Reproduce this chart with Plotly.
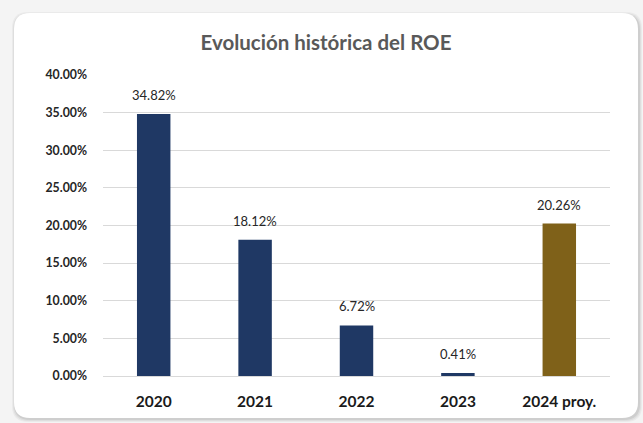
import plotly.graph_objects as go

categories = ["2020", "2021", "2022", "2023", "2024 proy."]
roe = [0.3482, 0.1812, 0.0672, 0.0041, 0.2026]
bar_colors = ["#1F3864", "#1F3864", "#1F3864", "#1F3864", "#7F6119"]
tick_vals = [0, 0.05, 0.10, 0.15, 0.20, 0.25, 0.30, 0.35, 0.40]

W, H = 643, 423
ml, mr, mt, mb = 103, 33, 75, 47

def rrect(x0, y0, x1, y1, r):
    # pixel coords -> paper coords
    def px(x): return (x - ml) / (W - ml - mr)
    def py(y): return (H - mb - y) / (H - mt - mb)
    return (f"M {px(x0+r)},{py(y0)} L {px(x1-r)},{py(y0)} "
            f"Q {px(x1)},{py(y0)} {px(x1)},{py(y0+r)} "
            f"L {px(x1)},{py(y1-r)} Q {px(x1)},{py(y1)} {px(x1-r)},{py(y1)} "
            f"L {px(x0+r)},{py(y1)} Q {px(x0)},{py(y1)} {px(x0)},{py(y1-r)} "
            f"L {px(x0)},{py(y0+r)} Q {px(x0)},{py(y0)} {px(x0+r)},{py(y0)} Z")

shapes = []
for i, op in enumerate([0.04, 0.05, 0.07]):
    d = 3 - i
    shapes.append(dict(type="path", xref="paper", yref="paper", layer="below",
                       path=rrect(14 - d + 1, 13 - d + 2, 638 + d + 1, 418 + d + 1, 16),
                       fillcolor=f"rgba(0,0,0,{op})", line=dict(width=0)))
shapes.append(dict(type="path", xref="paper", yref="paper", layer="below",
                   path=rrect(14, 13, 638, 418, 16),
                   fillcolor="white", line=dict(width=0)))

fig = go.Figure(go.Bar(
    x=categories, y=roe, marker=dict(color=bar_colors, line=dict(width=0)),
    width=0.33, hoverinfo="skip"))

annotations = [dict(x=i, y=v, text=f"{v*100:.2f}%", showarrow=False, yshift=19,
                    font=dict(family="Lato, 'Open Sans', sans-serif", size=13, color="#262626"))
               for i, v in enumerate(roe)]

fig.update_layout(
    width=W, height=H,
    margin=dict(l=ml, r=mr, t=mt, b=mb),
    paper_bgcolor="#F4F4F4", plot_bgcolor="rgba(0,0,0,0)",
    showlegend=False,
    shapes=shapes,
    annotations=annotations,
    title=dict(text="<b>Evolución histórica del ROE</b>", x=326 / W, xanchor="center",
               y=1 - 43 / H, yanchor="middle",
               font=dict(family="Lato, 'Open Sans', sans-serif", size=20.5, color="#595959")),
    xaxis=dict(type="category", range=[-0.5, len(categories) - 0.5],
               showgrid=False, showline=False, zeroline=False, ticks="",
               ticklabelstandoff=14,
               tickfont=dict(family="Lato, 'Open Sans', sans-serif", size=15.5, color="#1a1a1a", weight="bold")),
    yaxis=dict(range=[0, 0.40], tickvals=tick_vals, tickformat=".2%",
               showgrid=True, gridcolor="#D9D9D9", gridwidth=1, zeroline=True,
               zerolinecolor="#D9D9D9", zerolinewidth=1, showline=False, ticks="",
               ticklabelstandoff=15,
               tickfont=dict(family="Lato, 'Open Sans', sans-serif", size=12.3, color="#262626", weight="bold")),
)

fig.write_html("out.html", config={"displayModeBar": False},
               post_script="document.body.style.margin='0';document.body.style.overflow='hidden';document.body.style.background='#F4F4F4';")
